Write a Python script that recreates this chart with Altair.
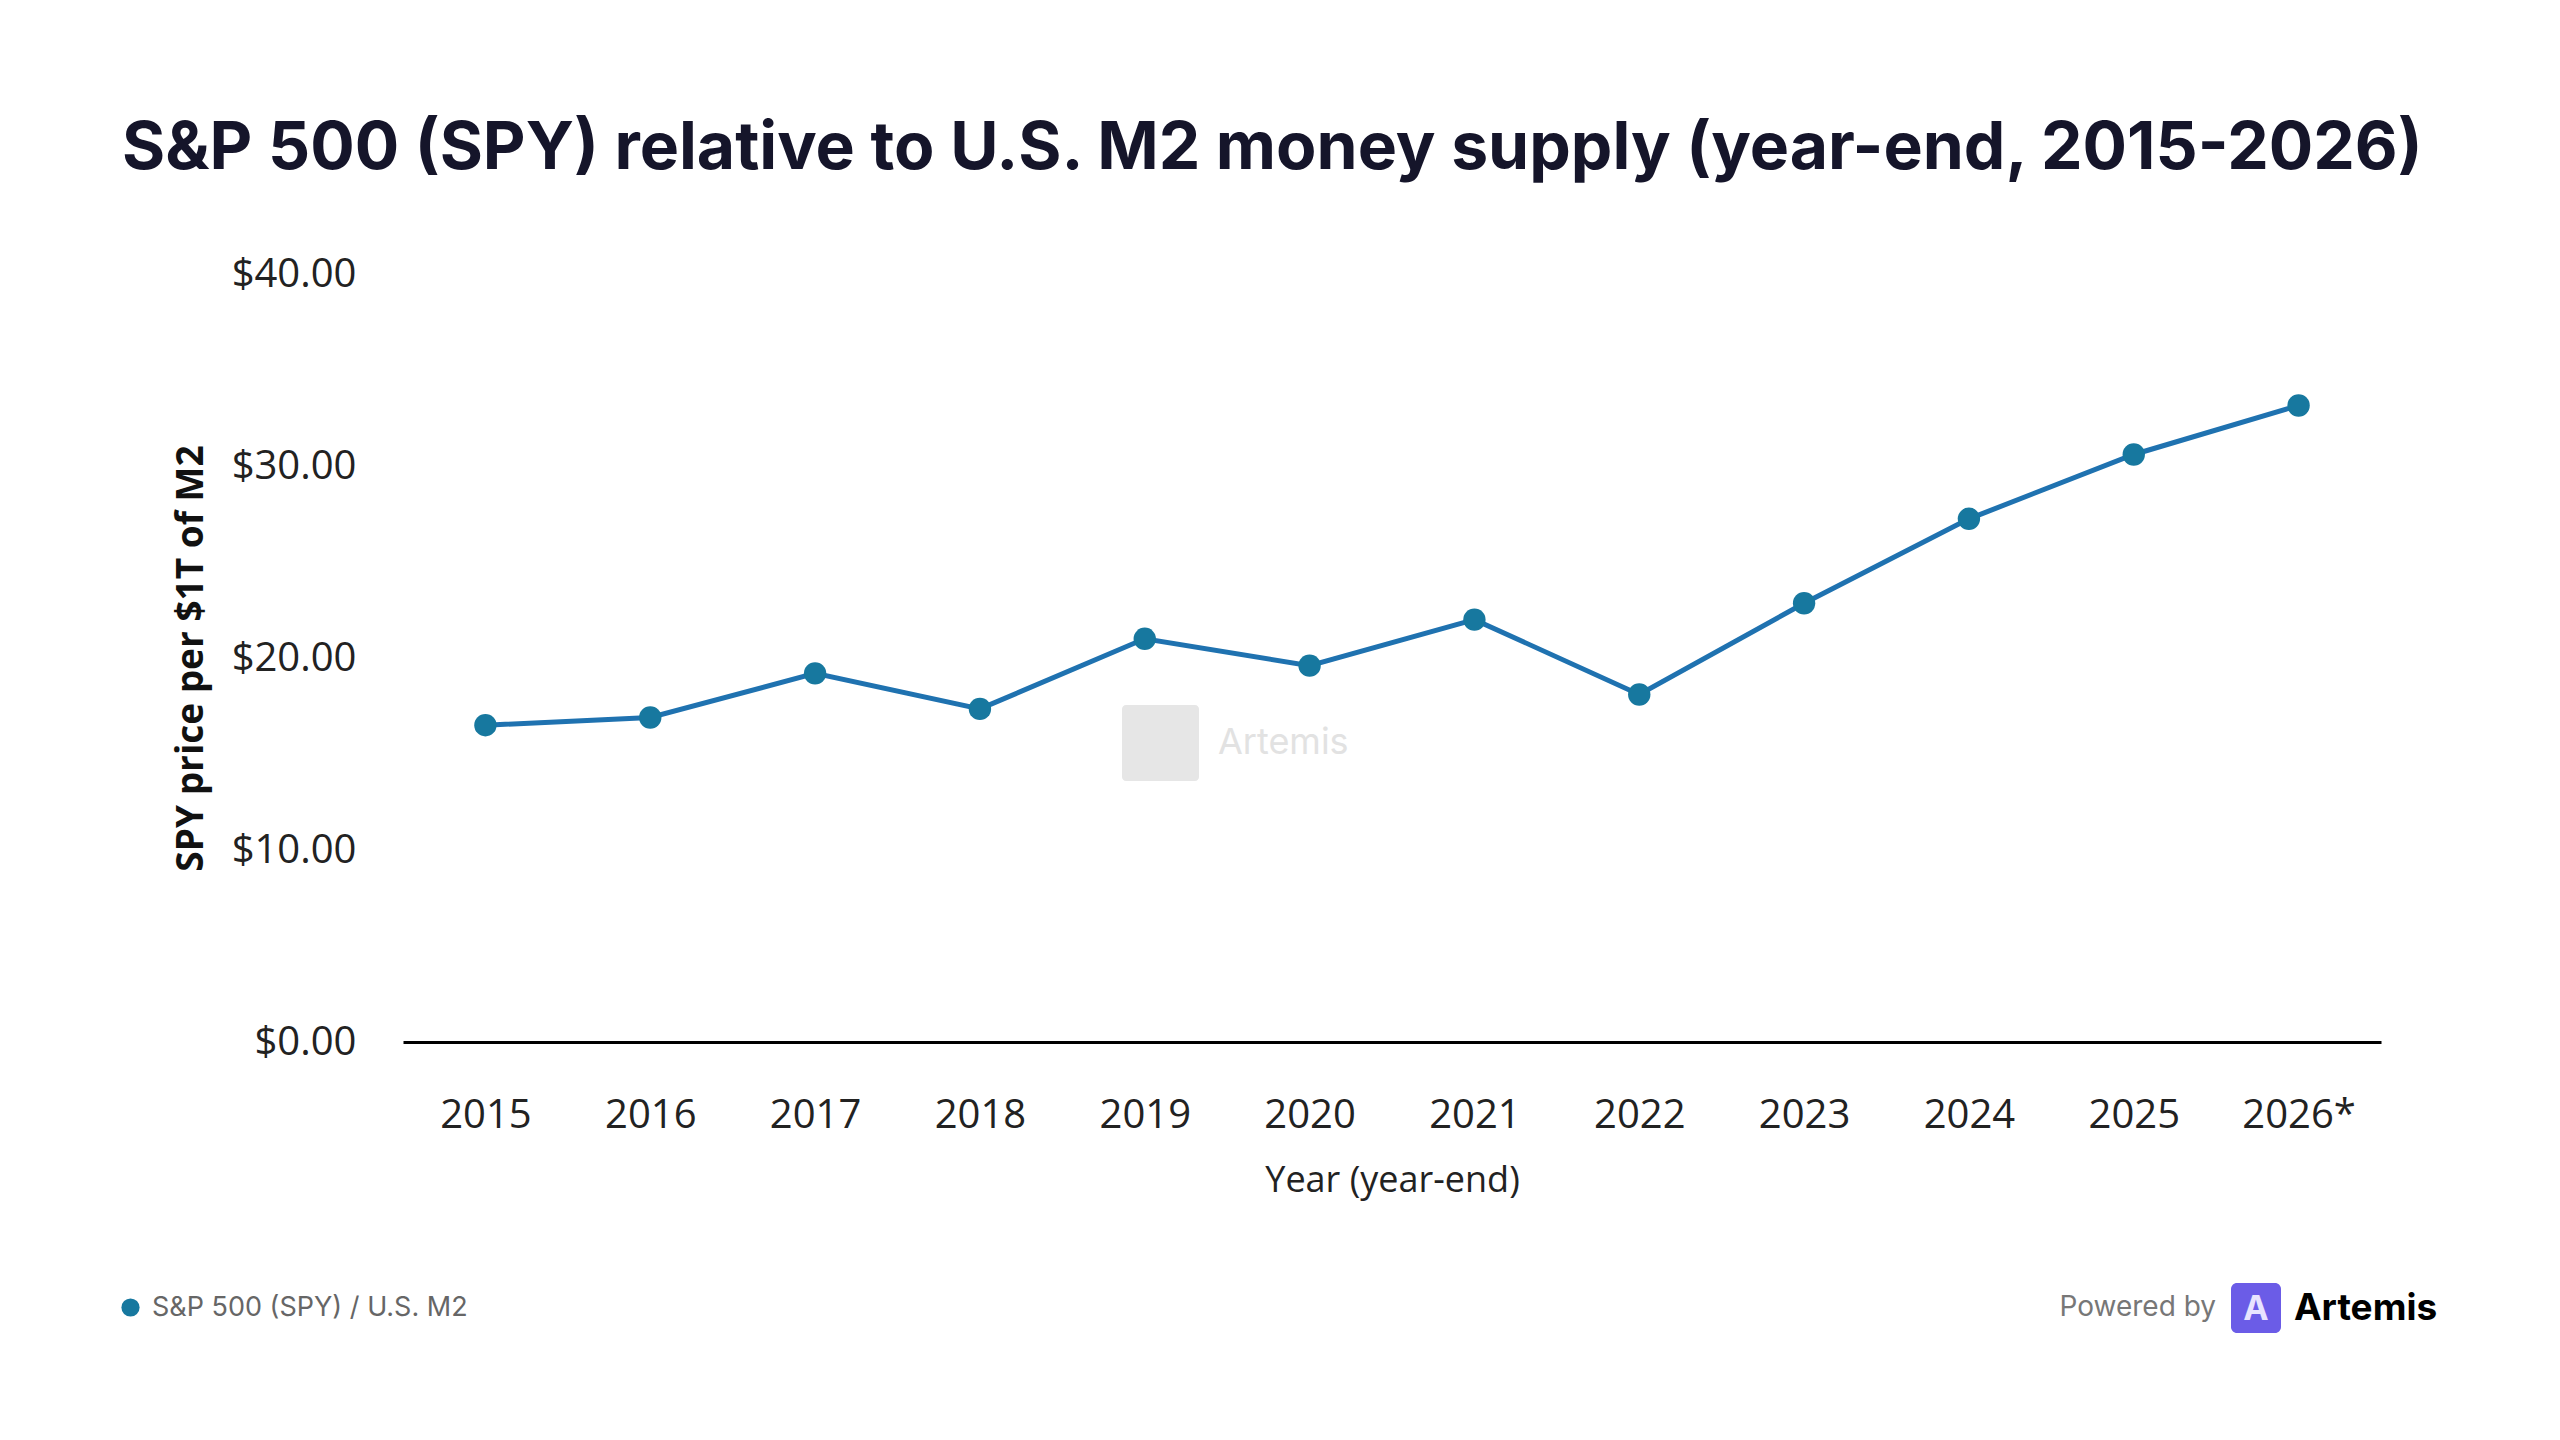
import altair as alt
import pandas as pd

years = ["2015", "2016", "2017", "2018", "2019", "2020", "2021", "2022", "2023", "2024", "2025", "2026*"]
values = [16.5, 16.9, 19.2, 17.35, 21.0, 19.6, 22.0, 18.1, 22.85, 27.25, 30.6, 33.15]
series_name = "S&P 500 (SPY) / U.S. M2"

df = pd.DataFrame({"year": years, "value": values, "series": [series_name] * len(years)})

TITLE_FONT = "Inter"
AXIS_FONT = "Open Sans"

W, H = 1978, 768
PAD_L, PAD_T = 395, 266
TOTAL_W, TOTAL_H = 2544, 1424

x_enc = alt.X(
    "year:O",
    sort=years,
    scale=alt.Scale(padding=0.5),
    axis=alt.Axis(
        title="Year (year-end)",
        labelAngle=0,
        labelFontSize=40,
        labelFont=AXIS_FONT,
        labelColor="#222222",
        labelPadding=53,
        ticks=False,
        tickSize=0,
        domain=True,
        domainColor="#000000",
        domainWidth=3,
        grid=False,
        titleFont=AXIS_FONT,
        titleFontSize=36,
        titleFontWeight="normal",
        titleColor="#222222",
        titlePadding=28,
    ),
)
y_enc = alt.Y(
    "value:Q",
    scale=alt.Scale(domain=[0, 40]),
    axis=alt.Axis(
        title="SPY price per $1T of M2",
        values=[0, 10, 20, 30, 40],
        format="$,.2f",
        labelFontSize=40,
        labelFont=AXIS_FONT,
        labelColor="#222222",
        labelPadding=47,
        ticks=False,
        tickSize=0,
        domain=False,
        grid=False,
        titleFont=AXIS_FONT,
        titleFontSize=37,
        titleFontWeight="bold",
        titleColor="#111111",
        titlePadding=21,
    ),
)

base = alt.Chart(df)

line = base.mark_line(color="#1f72b0", strokeWidth=5).encode(x=x_enc, y=y_enc)
points = base.mark_point(filled=True, size=500, opacity=1).encode(
    x=x_enc,
    y=y_enc,
    color=alt.Color(
        "series:N",
        scale=alt.Scale(range=["#17789f"]),
        legend=alt.Legend(
            title=None,
            orient="none",
            legendX=-286,
            legendY=1020,
            symbolType="circle",
            symbolSize=330,
            labelFont=TITLE_FONT,
            labelFontSize=27,
            labelColor="#666666",
            labelOffset=8,
            labelLimit=0,
        ),
    ),
)

# watermark
wm_df = pd.DataFrame({"t": ["Artemis"]})
wm_box = alt.Chart(wm_df).mark_rect(color="#e6e6e6", cornerRadius=4).encode(
    x=alt.value(719), x2=alt.value(796), y=alt.value(431), y2=alt.value(507)
)
wm_text = alt.Chart(wm_df).mark_text(
    font=TITLE_FONT, fontSize=36, color="#e2e2e2", align="left", baseline="middle"
).encode(x=alt.value(815), y=alt.value(469), text="t:N")

# footer
pb_df = pd.DataFrame({"t": ["Powered by"]})
powered = alt.Chart(pb_df).mark_text(
    font=TITLE_FONT, fontSize=28, color="#777777", align="right", baseline="middle"
).encode(x=alt.value(1813), y=alt.value(1034), text="t:N")
logo = alt.Chart(pb_df).mark_rect(color="#6b5ce7", cornerRadius=6).encode(
    x=alt.value(1828), x2=alt.value(1878), y=alt.value(1009), y2=alt.value(1059)
)
logo_a = alt.Chart(pd.DataFrame({"t": ["A"]})).mark_text(
    font=TITLE_FONT, fontSize=34, fontWeight="bold", color="#e8e4ff", align="center", baseline="middle"
).encode(x=alt.value(1853), y=alt.value(1036), text="t:N")
brand = alt.Chart(pd.DataFrame({"t": ["Artemis"]})).mark_text(
    font=TITLE_FONT, fontSize=37, fontWeight="bold", color="#000000", align="left", baseline="middle"
).encode(x=alt.value(1891), y=alt.value(1035), text="t:N")

chart = (
    alt.layer(wm_box, wm_text, line, points, powered, logo, logo_a, brand)
    .properties(
        width=W,
        height=H,
        autosize=alt.AutoSizeParams(type="none"),
        padding={"left": PAD_L, "top": PAD_T, "right": TOTAL_W - PAD_L - W, "bottom": TOTAL_H - PAD_T - H},
        view=alt.ViewBackground(strokeOpacity=0, strokeWidth=0),
        title=alt.TitleParams(
            text="S&P 500 (SPY) relative to U.S. M2 money supply (year-end, 2015-2026)",
            anchor="start",
            frame="group",
            font=TITLE_FONT,
            fontSize=66,
            fontWeight="bold",
            color="#15152a",
            dx=-281,
            offset=19,
            baseline="alphabetic",
        ),
    )
    .configure_view(strokeWidth=0, strokeOpacity=0)
    .configure(background="white")
)

chart.save("out.html", embed_options={"renderer": "svg", "actions": False})
